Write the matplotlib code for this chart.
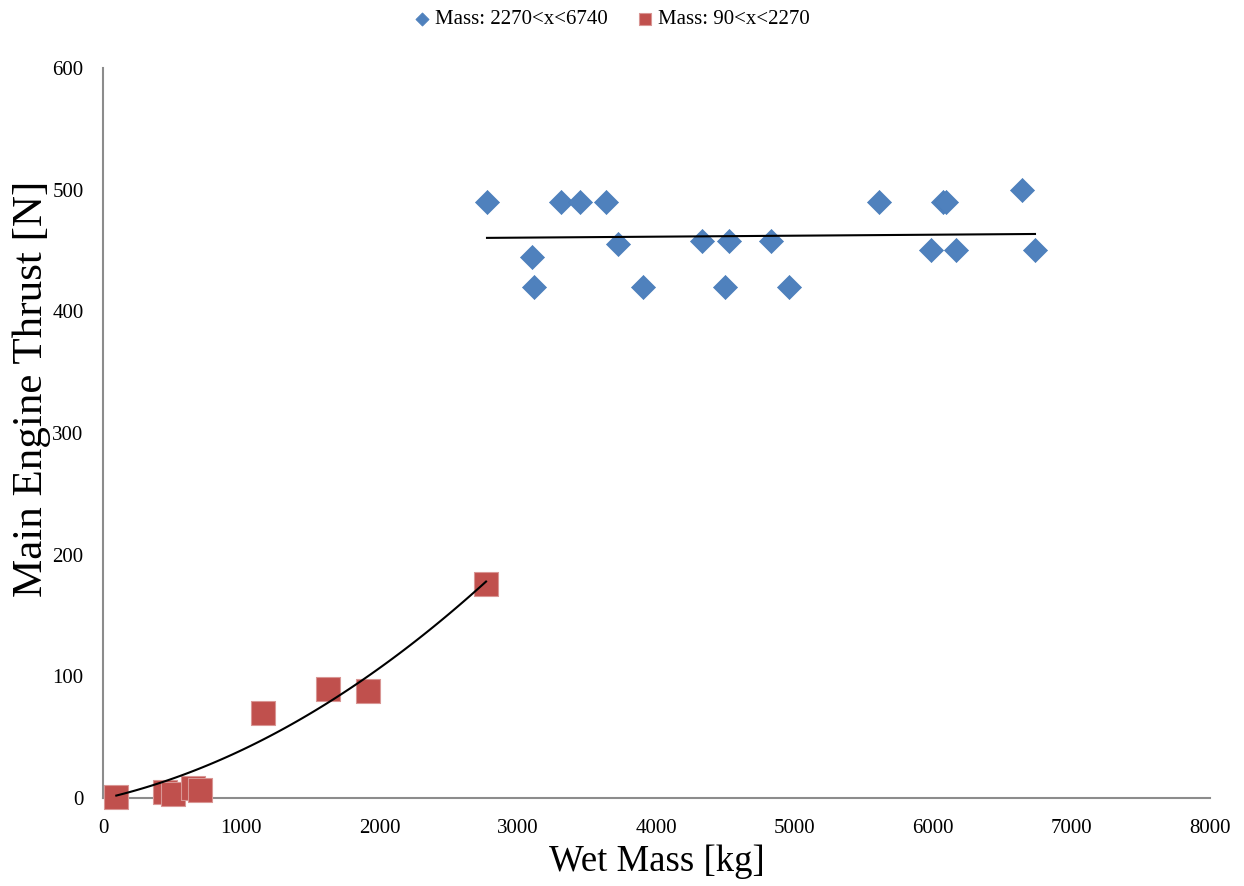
import matplotlib
matplotlib.use("Agg")
import matplotlib.pyplot as plt
import numpy as np

plt.rcParams['font.family'] = ['Liberation Serif', 'DejaVu Serif']

# Mass: 2270<x<6740 (blue diamonds)
blue_x = [2775, 3100, 3115, 3310, 3447, 3635, 3722, 3902, 4329, 4495, 4524,
          4827, 4957, 5608, 5984, 6070, 6090, 6164, 6641, 6735]
blue_y = [490, 445, 420, 490, 490, 490, 455, 420, 458, 420, 458,
          458, 420, 490, 450, 490, 490, 450, 500, 450]

# Mass: 90<x<2270 (red squares)
red_x = [96, 448, 506, 650, 701, 1156, 1626, 1915, 2768]
red_y = [1, 5, 3, 8, 7, 70, 90, 88, 176]

# trendline coefficients as shown on the chart (highest power first)
blue_trend = [0.00081, 458.1]
red_trend = [1.394e-5, 0.0259, -0.6]

fig = plt.figure(figsize=(12.44, 8.86), dpi=100)
ax = fig.add_axes([0.0828, 0.0993, 0.8899, 0.824])

ax.scatter(blue_x, blue_y, marker='D', s=150, color='#4f81bd', edgecolors='#4a7ebb',
           linewidths=0.5, label='Mass: 2270<x<6740', zorder=3, clip_on=False)
ax.scatter(red_x, red_y, marker='s', s=280, color='#c0504d', edgecolors='#d99694',
           linewidths=0.8, label='Mass: 90<x<2270', zorder=3, clip_on=False)

# trend lines
xb = np.linspace(min(blue_x), max(blue_x), 50)
ax.plot(xb, np.polyval(blue_trend, xb), color='black', lw=1.5, zorder=4)
xr = np.linspace(min(red_x), max(red_x), 100)
ax.plot(xr, np.polyval(red_trend, xr), color='black', lw=1.5, zorder=4)

ax.set_xlim(0, 8000)
ax.set_ylim(0, 600)
ax.set_xticks(range(0, 8001, 1000))
ax.set_yticks(range(0, 601, 100))
ax.tick_params(labelsize=15, length=0)
ax.tick_params(axis='y', pad=14)
ax.tick_params(axis='x', pad=15)
for s in ['top', 'right']:
    ax.spines[s].set_visible(False)
for s in ['left', 'bottom']:
    ax.spines[s].set_color('#8c8c8c')
    ax.spines[s].set_linewidth(1.5)

ax.set_xlabel('Wet Mass [kg]', fontsize=26.5)
ax.xaxis.set_label_coords(0.5, -0.064)
ax.set_ylabel('Main Engine Thrust [N]', fontsize=31)
ax.yaxis.set_label_coords(-0.047, 0.56)

leg = fig.legend(loc='upper center', bbox_to_anchor=(0.49, 1.01), ncol=2, frameon=False,
                 fontsize=15, handletextpad=0.0, columnspacing=1.2, markerscale=0.55,
                 handlelength=1.2)

fig.savefig('out.png', dpi=100)
